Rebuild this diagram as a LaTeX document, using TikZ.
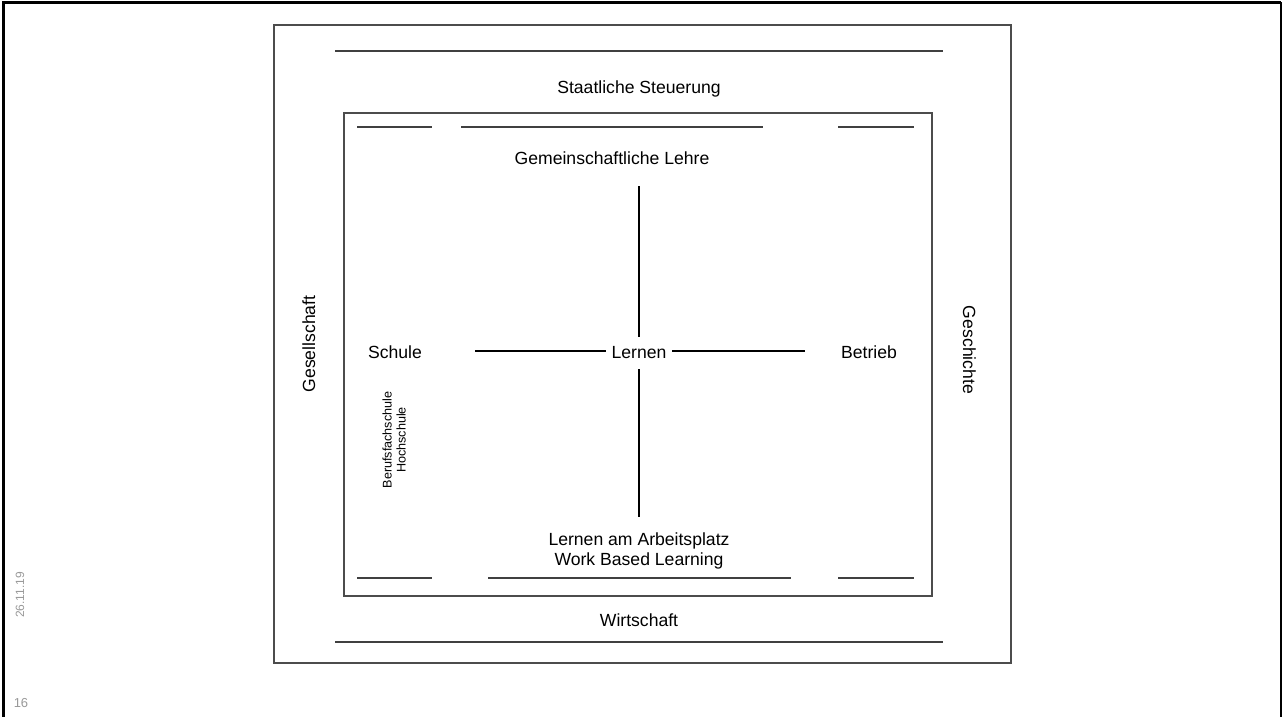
\documentclass[tikz,border=0pt]{standalone}
\usepackage{fontspec}
\setmainfont{Liberation Sans}
\tikzset{
  lbl/.style={inner sep=0pt, anchor=base, font=\fontsize{17.6}{21}\selectfont},
  small/.style={inner sep=0pt, align=center, rotate=90, font=\fontsize{12.6}{14}\selectfont},
  foot/.style={inner sep=0pt, text=black!40, font=\fontsize{12}{14}\selectfont},
  boxline/.style={draw=black!70, line width=1.4pt},
  bar/.style={draw=black!75, line width=1.4pt},
  crossline/.style={draw=black, line width=2pt}
}
\begin{document}
\begin{tikzpicture}[x=1pt,y=-1pt]
\useasboundingbox (0,0) rectangle (1282,717);
% page frame
\draw[line width=3pt] (3.5,717) -- (3.5,2.5) -- (1281,2.5);
\draw[line width=2pt] (1281,2.5) -- (1281,717);
% outer and inner boxes
\draw[boxline] (274,25) rectangle (1011,663);
\draw[boxline] (344,113) rectangle (932,596);
% outer horizontal lines
\draw[bar] (335,51) -- (943,51);
\draw[bar] (335,642) -- (943,642);
% inner top lines
\draw[bar] (357,127) -- (432,127);
\draw[bar] (461,127) -- (763,127);
\draw[bar] (838,127) -- (914,127);
% inner bottom lines
\draw[bar] (357,578) -- (432,578);
\draw[bar] (488,578) -- (791,578);
\draw[bar] (838,578) -- (914,578);
% texts
\node[lbl] (staat) at (639,93) {Staatliche Steuerung};
\node[lbl] (lehre) at (612,164) {Gemeinschaftliche Lehre};
\node[lbl] (schule) at (395,358) {Schule};
\node[lbl] (lernen) at (639,358) {Lernen};
\node[lbl] (betrieb) at (869,358) {Betrieb};
\node[lbl] (arbeit) at (639,545) {Lernen am Arbeitsplatz};
\node[lbl] (wbl) at (639,565) {Work Based Learning};
\node[lbl] (wirt) at (639,626) {Wirtschaft};
\node[lbl, rotate=90] (gesell) at (315,344) {Gesellschaft};
\node[lbl, rotate=-90] (gesch) at (963,350) {Geschichte};
\node[small] (schulen) at (394,440) {Berufsfachschule\\Hochschule};
\node[foot, rotate=90] (date) at (20,595) {26.11.19};
\node[foot, font=\fontsize{13}{15}\selectfont] (page) at (21,703) {16};
% cross
\coordinate (vt1) at (639,186);
\coordinate (vt2) at (639,337);
\coordinate (vb1) at (639,369);
\coordinate (vb2) at (639,517);
\coordinate (hl1) at (475,351);
\coordinate (hl2) at (606,351);
\coordinate (hr1) at (672,351);
\coordinate (hr2) at (805,351);
\draw[crossline] (vt1) -- (vt2);
\draw[crossline] (vb1) -- (vb2);
\draw[crossline] (hl1) -- (hl2);
\draw[crossline] (hr1) -- (hr2);
\end{tikzpicture}
\end{document}
